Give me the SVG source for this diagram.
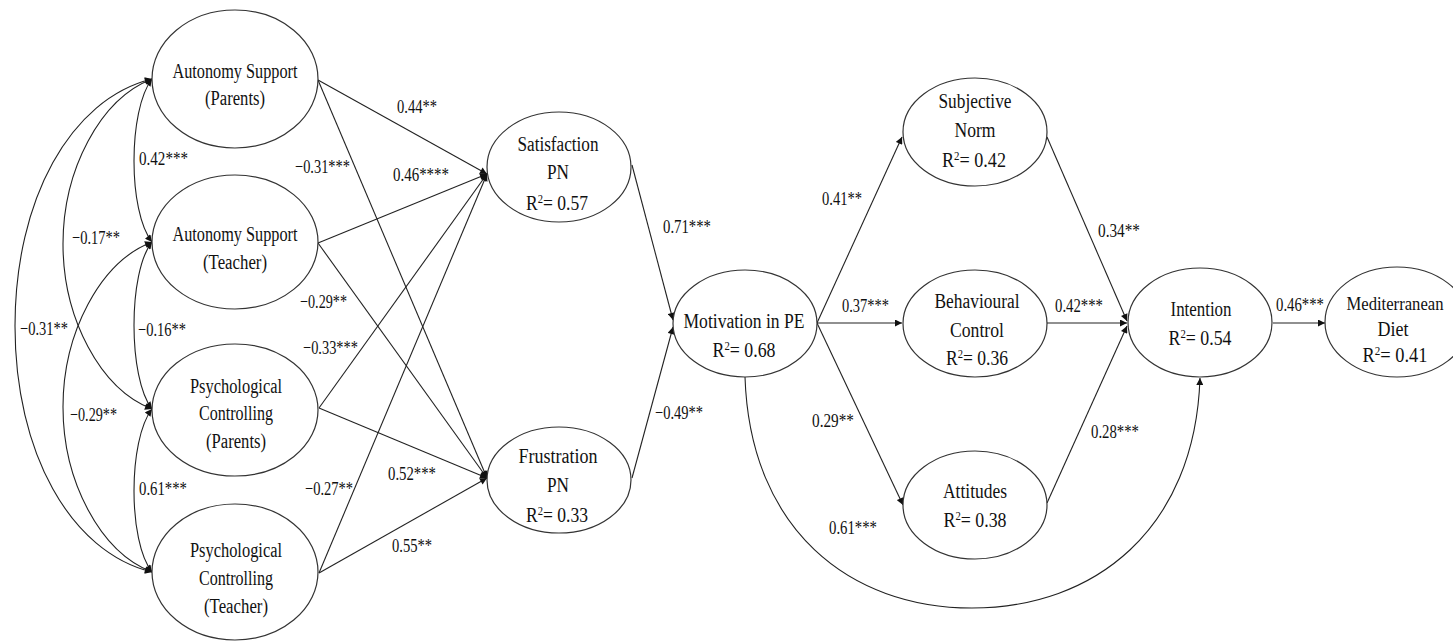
<svg xmlns="http://www.w3.org/2000/svg" width="1453" height="641" viewBox="0 0 1453 641">
<style>
.node ellipse{fill:#fff;stroke:#333;stroke-width:1.2}
.t{font-family:"Liberation Serif","Times New Roman",serif;font-size:20px;fill:#111;text-anchor:middle}
.lb{font-family:"Liberation Serif","Times New Roman",serif;font-size:19px;fill:#111}
.sup{font-size:12px}
#connectors path,#connectors line{fill:none;stroke:#222;stroke-width:1.1}
</style>
<defs>
<marker id="arr" viewBox="0 0 10 10" refX="10" refY="5" markerWidth="9" markerHeight="7" markerUnits="userSpaceOnUse" orient="auto-start-reverse">
<path d="M0,0 L10,5 L0,10 z" fill="#111"/>
</marker>
</defs>
<rect width="1453" height="641" fill="#fff"/>

<g id="connectors">
<path d="M152,79 C128,110 128,212 152,242" marker-start="url(#arr)" marker-end="url(#arr)"/>
<path d="M152,242 C128,272 128,378 152,409" marker-start="url(#arr)" marker-end="url(#arr)"/>
<path d="M152,409 C128,440 128,542 152,572" marker-start="url(#arr)" marker-end="url(#arr)"/>
<path d="M152,79 C100,99 63,170 63,244 C63,318 100,389 152,409" marker-start="url(#arr)" marker-end="url(#arr)"/>
<path d="M152,242 C100,262 63,333 63,407 C63,481 100,552 152,572" marker-start="url(#arr)" marker-end="url(#arr)"/>
<path d="M152,79 C70,99 15,200 15,326 C15,452 70,552 152,572" marker-start="url(#arr)" marker-end="url(#arr)"/>
<line x1="318" y1="80" x2="487" y2="174" marker-end="url(#arr)"/>
<line x1="318" y1="80" x2="487" y2="478" marker-end="url(#arr)"/>
<line x1="318" y1="243" x2="487" y2="174" marker-end="url(#arr)"/>
<line x1="318" y1="243" x2="487" y2="478" marker-end="url(#arr)"/>
<line x1="319" y1="408" x2="487" y2="174" marker-end="url(#arr)"/>
<line x1="319" y1="408" x2="487" y2="478" marker-end="url(#arr)"/>
<line x1="319" y1="573" x2="487" y2="174" marker-end="url(#arr)"/>
<line x1="319" y1="573" x2="487" y2="478" marker-end="url(#arr)"/>
<line x1="632" y1="165" x2="673" y2="320" marker-end="url(#arr)"/>
<line x1="632" y1="478" x2="673" y2="327" marker-end="url(#arr)"/>
<line x1="817" y1="323" x2="902" y2="137" marker-end="url(#arr)"/>
<line x1="817" y1="323" x2="902" y2="323" marker-end="url(#arr)"/>
<line x1="817" y1="323" x2="903" y2="505" marker-end="url(#arr)"/>
<path d="M745,377 C750,530 850,608 972,608 C1094,608 1195,530 1200,378" marker-end="url(#arr)"/>
<line x1="1047" y1="137" x2="1127" y2="321" marker-end="url(#arr)"/>
<line x1="1047" y1="323" x2="1127" y2="323" marker-end="url(#arr)"/>
<line x1="1047" y1="503" x2="1127" y2="326" marker-end="url(#arr)"/>
<line x1="1273" y1="323" x2="1325" y2="323" marker-end="url(#arr)"/>
</g>

<g id="labels">
<text class="lb" x="139" y="165" textLength="49" lengthAdjust="spacingAndGlyphs">0.42***</text>
<text class="lb" x="72" y="244" textLength="48" lengthAdjust="spacingAndGlyphs">−0.17**</text>
<text class="lb" x="20" y="335" textLength="48" lengthAdjust="spacingAndGlyphs">−0.31**</text>
<text class="lb" x="138" y="336" textLength="48" lengthAdjust="spacingAndGlyphs">−0.16**</text>
<text class="lb" x="70" y="421" textLength="47" lengthAdjust="spacingAndGlyphs">−0.29**</text>
<text class="lb" x="139" y="495" textLength="48" lengthAdjust="spacingAndGlyphs">0.61***</text>
<text class="lb" x="397" y="113" textLength="40" lengthAdjust="spacingAndGlyphs">0.44**</text>
<text class="lb" x="295" y="173" textLength="55" lengthAdjust="spacingAndGlyphs">−0.31***</text>
<text class="lb" x="393" y="181" textLength="56" lengthAdjust="spacingAndGlyphs">0.46****</text>
<text class="lb" x="300" y="308" textLength="47" lengthAdjust="spacingAndGlyphs">−0.29**</text>
<text class="lb" x="303" y="354" textLength="55" lengthAdjust="spacingAndGlyphs">−0.33***</text>
<text class="lb" x="305" y="495" textLength="48" lengthAdjust="spacingAndGlyphs">−0.27**</text>
<text class="lb" x="388" y="480" textLength="48" lengthAdjust="spacingAndGlyphs">0.52***</text>
<text class="lb" x="392" y="552" textLength="40" lengthAdjust="spacingAndGlyphs">0.55**</text>
<text class="lb" x="663" y="233" textLength="48" lengthAdjust="spacingAndGlyphs">0.71***</text>
<text class="lb" x="655" y="419" textLength="48" lengthAdjust="spacingAndGlyphs">−0.49**</text>
<text class="lb" x="822" y="205" textLength="40" lengthAdjust="spacingAndGlyphs">0.41**</text>
<text class="lb" x="842" y="312" textLength="47" lengthAdjust="spacingAndGlyphs">0.37***</text>
<text class="lb" x="812" y="427" textLength="42" lengthAdjust="spacingAndGlyphs">0.29**</text>
<text class="lb" x="829" y="534" textLength="48" lengthAdjust="spacingAndGlyphs">0.61***</text>
<text class="lb" x="1098" y="237" textLength="42" lengthAdjust="spacingAndGlyphs">0.34**</text>
<text class="lb" x="1055" y="312" textLength="48" lengthAdjust="spacingAndGlyphs">0.42***</text>
<text class="lb" x="1091" y="438" textLength="48" lengthAdjust="spacingAndGlyphs">0.28***</text>
<text class="lb" x="1276" y="311" textLength="48" lengthAdjust="spacingAndGlyphs">0.46***</text>
</g>

<g id="n-as-parents" class="node">
<ellipse cx="235" cy="79" rx="83" ry="69"/>
<text class="t" x="235" y="78" textLength="125" lengthAdjust="spacingAndGlyphs">Autonomy  Support</text>
<text class="t" x="235" y="105" textLength="60" lengthAdjust="spacingAndGlyphs">(Parents)</text>
</g>
<g id="n-as-teacher" class="node">
<ellipse cx="235" cy="242" rx="83" ry="67"/>
<text class="t" x="235" y="241" textLength="125" lengthAdjust="spacingAndGlyphs">Autonomy  Support</text>
<text class="t" x="235" y="269" textLength="64" lengthAdjust="spacingAndGlyphs">(Teacher)</text>
</g>
<g id="n-pc-parents" class="node">
<ellipse cx="235" cy="410" rx="83" ry="66"/>
<text class="t" x="236" y="393" textLength="92" lengthAdjust="spacingAndGlyphs">Psychological</text>
<text class="t" x="236" y="420" textLength="74" lengthAdjust="spacingAndGlyphs">Controlling</text>
<text class="t" x="236" y="448" textLength="60" lengthAdjust="spacingAndGlyphs">(Parents)</text>
</g>
<g id="n-pc-teacher" class="node">
<ellipse cx="235" cy="572" rx="83" ry="68"/>
<text class="t" x="236" y="557" textLength="92" lengthAdjust="spacingAndGlyphs">Psychological</text>
<text class="t" x="236" y="585" textLength="74" lengthAdjust="spacingAndGlyphs">Controlling</text>
<text class="t" x="236" y="613" textLength="64" lengthAdjust="spacingAndGlyphs">(Teacher)</text>
</g>

<g id="n-satisfaction" class="node">
<ellipse cx="559" cy="167" rx="72" ry="55"/>
<text class="t" x="558" y="151" textLength="81" lengthAdjust="spacingAndGlyphs">Satisfaction</text>
<text class="t" x="558" y="179" textLength="22" lengthAdjust="spacingAndGlyphs">PN</text>
<text class="t" x="557" y="210" textLength="62" lengthAdjust="spacingAndGlyphs">R<tspan class="sup" dy="-7">2</tspan><tspan dy="7">= 0.57</tspan></text>
</g>
<g id="n-frustration" class="node">
<ellipse cx="559" cy="480" rx="72" ry="53"/>
<text class="t" x="558" y="463" textLength="79" lengthAdjust="spacingAndGlyphs">Frustration</text>
<text class="t" x="558" y="492" textLength="22" lengthAdjust="spacingAndGlyphs">PN</text>
<text class="t" x="557" y="522" textLength="62" lengthAdjust="spacingAndGlyphs">R<tspan class="sup" dy="-7">2</tspan><tspan dy="7">= 0.33</tspan></text>
</g>

<g id="n-motivation" class="node">
<ellipse cx="745" cy="323.5" rx="72" ry="53.5"/>
<text class="t" x="744" y="328" textLength="121" lengthAdjust="spacingAndGlyphs">Motivation in PE</text>
<text class="t" x="744" y="357" textLength="63" lengthAdjust="spacingAndGlyphs">R<tspan class="sup" dy="-7">2</tspan><tspan dy="7">= 0.68</tspan></text>
</g>

<g id="n-subjective" class="node">
<ellipse cx="975" cy="132" rx="72" ry="54"/>
<text class="t" x="975" y="108" textLength="73" lengthAdjust="spacingAndGlyphs">Subjective</text>
<text class="t" x="975" y="137" textLength="41" lengthAdjust="spacingAndGlyphs">Norm</text>
<text class="t" x="974" y="167" textLength="64" lengthAdjust="spacingAndGlyphs">R<tspan class="sup" dy="-7">2</tspan><tspan dy="7">= 0.42</tspan></text>
</g>
<g id="n-behavioural" class="node">
<ellipse cx="975" cy="323.5" rx="72" ry="53.5"/>
<text class="t" x="977" y="308" textLength="85" lengthAdjust="spacingAndGlyphs">Behavioural</text>
<text class="t" x="977" y="337" textLength="54" lengthAdjust="spacingAndGlyphs">Control</text>
<text class="t" x="977" y="365" textLength="62" lengthAdjust="spacingAndGlyphs">R<tspan class="sup" dy="-7">2</tspan><tspan dy="7">= 0.36</tspan></text>
</g>
<g id="n-attitudes" class="node">
<ellipse cx="975" cy="505" rx="72" ry="54"/>
<text class="t" x="975" y="498" textLength="64" lengthAdjust="spacingAndGlyphs">Attitudes</text>
<text class="t" x="975" y="527" textLength="63" lengthAdjust="spacingAndGlyphs">R<tspan class="sup" dy="-7">2</tspan><tspan dy="7">= 0.38</tspan></text>
</g>
<g id="n-intention" class="node">
<ellipse cx="1200" cy="322.5" rx="72" ry="54.5"/>
<text class="t" x="1201" y="316" textLength="61" lengthAdjust="spacingAndGlyphs">Intention</text>
<text class="t" x="1200" y="345" textLength="63" lengthAdjust="spacingAndGlyphs">R<tspan class="sup" dy="-7">2</tspan><tspan dy="7">= 0.54</tspan></text>
</g>
<g id="n-mediterranean" class="node">
<ellipse cx="1397" cy="322" rx="72" ry="55"/>
<text class="t" x="1395" y="310" font-size="18" style="font-size:18px" textLength="97" lengthAdjust="spacingAndGlyphs">Mediterranean</text>
<text class="t" x="1393" y="336" textLength="31" lengthAdjust="spacingAndGlyphs">Diet</text>
<text class="t" x="1395" y="362" textLength="65" lengthAdjust="spacingAndGlyphs">R<tspan class="sup" dy="-7">2</tspan><tspan dy="7">= 0.41</tspan></text>
</g>
</svg>
